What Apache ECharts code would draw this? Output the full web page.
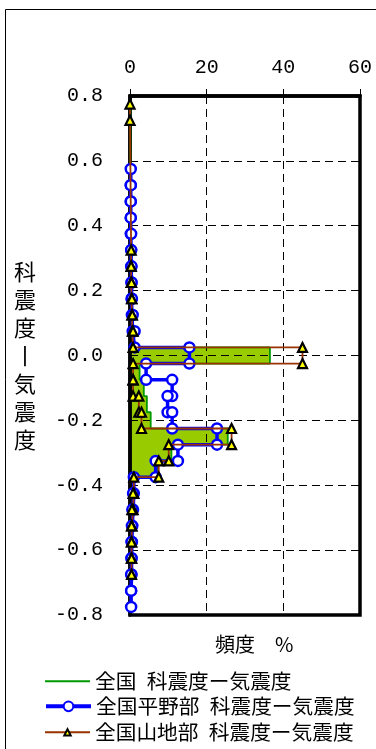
<!DOCTYPE html>
<html>
<head>
<meta charset="utf-8">
<script src="https://cdn.jsdelivr.net/npm/echarts@6/dist/echarts.min.js"></script>
<style>
  html, body { margin: 0; padding: 0; background: #fff; }
  #chart { width: 376px; height: 749px; }
</style>
</head>
<body>
<div id="chart"></div>
<script>
// Bin centres of (科震度 − 気震度); each bin is 0.05 wide
const binCenters = [
  0.75, 0.70, 0.65, 0.60, 0.55, 0.50, 0.45, 0.40, 0.35, 0.30, 0.25, 0.20, 0.15, 0.10, 0.05,
  0.00,
  -0.05, -0.10, -0.15, -0.20, -0.25, -0.30, -0.35, -0.40, -0.45, -0.50, -0.55, -0.60, -0.65, -0.70, -0.75
];
const binHalf = 0.025;

// Frequency (%) per bin; null = no data in that bin
const allJapan = [
  0.1, 0.1, 0.1, 0.1, 0.2, 0.2, 0.2, 0.2, 0.3, 0.3, 0.4, 0.4, 0.5, 0.7, 1.0,
  36.5,
  2.5, 3.6, 4.4, 5.4, 25.5, 10.8, 7.2, 1.0, 0.8, 0.5, 0.4, 0.4, 0.4, 0.2, 0.2
];
const plains = [
  null, null, null, null, 0.2, 0.2, 0.2, 0.2, 0.3, 0.3, 0.4, 0.4, 0.5, 0.7, 1.2,
  15.5,
  4.2, 11.0, 9.8, 11.0, 22.7, 12.5, 6.7, 1.0, 0.8, 0.6, 0.5, 0.4, 0.4, 0.3, 0.3
];
const mountains = [
  0, null, null, null, null, null, null, null, null, 0.3, 0.3, 0.4, 0.5, 0.6, 0.8,
  45.0,
  0.8, 0.8, 2.3, 3.0, 26.5, 10.1, 7.5, 1.0, 0.8, 0.5, 0.4, 0.4, 0.4, null, null
];

const seriesNames = [
  '全国\u2002科震度ー気震度',
  '全国平野部\u2002科震度ー気震度',
  '全国山地部\u2002科震度ー気震度'
];
const xRange = { min: 0, max: 60, interval: 20 };
const yRange = { min: -0.8, max: 0.8, interval: 0.2 };
const yAxisTitle = '科\n震\n度\n丨\n気\n震\n度';
const xAxisTitle = '頻度　%';

// Turn per-bin frequencies into a vertical step outline: [freq, upperEdge], [freq, lowerEdge]
function stepPoints(values) {
  const pts = [];
  values.forEach(function (v, i) {
    if (v == null) return;
    const c = binCenters[i];
    pts.push([v, +(c + binHalf).toFixed(3)], [v, +(c - binHalf).toFixed(3)]);
  });
  return pts;
}

const allPts = stepPoints(allJapan);
const plainPts = stepPoints(plains);
const mountainPts = stepPoints(mountains);

const jp = '"Noto Sans CJK JP", sans-serif';
const num = '"Liberation Mono", monospace';

function legendRow(name, top, symH, lineW) {
  return {
    orient: 'vertical', left: 44, top: top, padding: 0,
    itemWidth: 45, itemHeight: symH, itemGap: 0,
    lineStyle: { width: lineW },
    textStyle: { color: '#000', fontFamily: jp, fontSize: 20.7 },
    data: [name]
  };
}

const chart = echarts.init(document.getElementById('chart'), null, { renderer: 'canvas' });

chart.setOption({
  animation: false,
  backgroundColor: '#fff',
  grid: {
    left: 130, right: 16, top: 96, bottom: 134,
    show: true, borderColor: '#000', borderWidth: 3.5, backgroundColor: 'transparent'
  },
  xAxis: {
    type: 'value', position: 'top',
    min: xRange.min, max: xRange.max, interval: xRange.interval,
    axisLine: { show: true, onZero: false, lineStyle: { color: '#000', width: 3.5 } },
    axisTick: { show: true, inside: false, length: 7, lineStyle: { color: '#000', width: 1 } },
    axisLabel: { color: '#000', fontFamily: num, fontSize: 20, margin: 18 },
    splitLine: { show: true, lineStyle: { color: '#000', width: 1, type: [8, 5] } }
  },
  yAxis: {
    type: 'value',
    min: yRange.min, max: yRange.max, interval: yRange.interval,
    name: yAxisTitle, nameLocation: 'middle', nameRotate: 0, nameGap: 94,
    nameTextStyle: { color: '#000', fontFamily: jp, fontSize: 22, lineHeight: 28 },
    axisLine: { show: true, onZero: false, lineStyle: { color: '#000', width: 3.5 } },
    axisTick: { show: false },
    axisLabel: {
      color: '#000', fontFamily: num, fontSize: 20, margin: 27,
      formatter: function (v) { return Math.abs(v) < 1e-9 ? '0.0' : v.toFixed(1); }
    },
    splitLine: { show: true, lineStyle: { color: '#000', width: 1, type: [8, 5] } }
  },
  legend: [
    legendRow(seriesNames[0], 671, 1, 2),
    legendRow(seriesNames[1], 696, 12, 4),
    legendRow(seriesNames[2], 722, 8, 2)
  ],
  graphic: [
    {
      type: 'rect', silent: true, z: -10,
      shape: { x: 5.5, y: 9.5, width: 380, height: 800 },
      style: { fill: 'none', stroke: '#000', lineWidth: 1 }
    },
    {
      type: 'text', left: 215, top: 634,
      style: { text: xAxisTitle, fill: '#000', font: '20px ' + jp }
    }
  ],
  series: [
    {
      // filled area under the nationwide outline
      type: 'custom', name: 'fill', z: -1, silent: true,
      data: allPts,
      renderItem: function (params, api) {
        if (params.dataIndex !== 0) return null;
        const first = allPts[0], last = allPts[allPts.length - 1];
        const poly = [api.coord([0, first[1]])];
        allPts.forEach(function (p) { poly.push(api.coord(p)); });
        poly.push(api.coord([0, last[1]]));
        return { type: 'polygon', shape: { points: poly }, style: { fill: '#99CC00', stroke: null } };
      }
    },
    {
      name: seriesNames[0], type: 'line', data: allPts,
      symbol: 'none', color: '#009900',
      lineStyle: { color: '#009900', width: 1.8 }, z: 3
    },
    {
      name: seriesNames[1], type: 'line', data: plainPts,
      symbol: 'circle', symbolSize: 10, color: '#0000FF',
      itemStyle: { color: '#fff', borderColor: '#0000FF', borderWidth: 2.5 },
      lineStyle: { color: '#0000FF', width: 3.5 }, z: 4
    },
    {
      name: seriesNames[2], type: 'line', data: mountainPts,
      symbol: 'triangle', symbolSize: 9, color: '#993300',
      itemStyle: { color: '#FFFF00', borderColor: '#000', borderWidth: 2.2 },
      lineStyle: { color: '#993300', width: 1.8 }, z: 5
    }
  ]
});
</script>
</body>
</html>
